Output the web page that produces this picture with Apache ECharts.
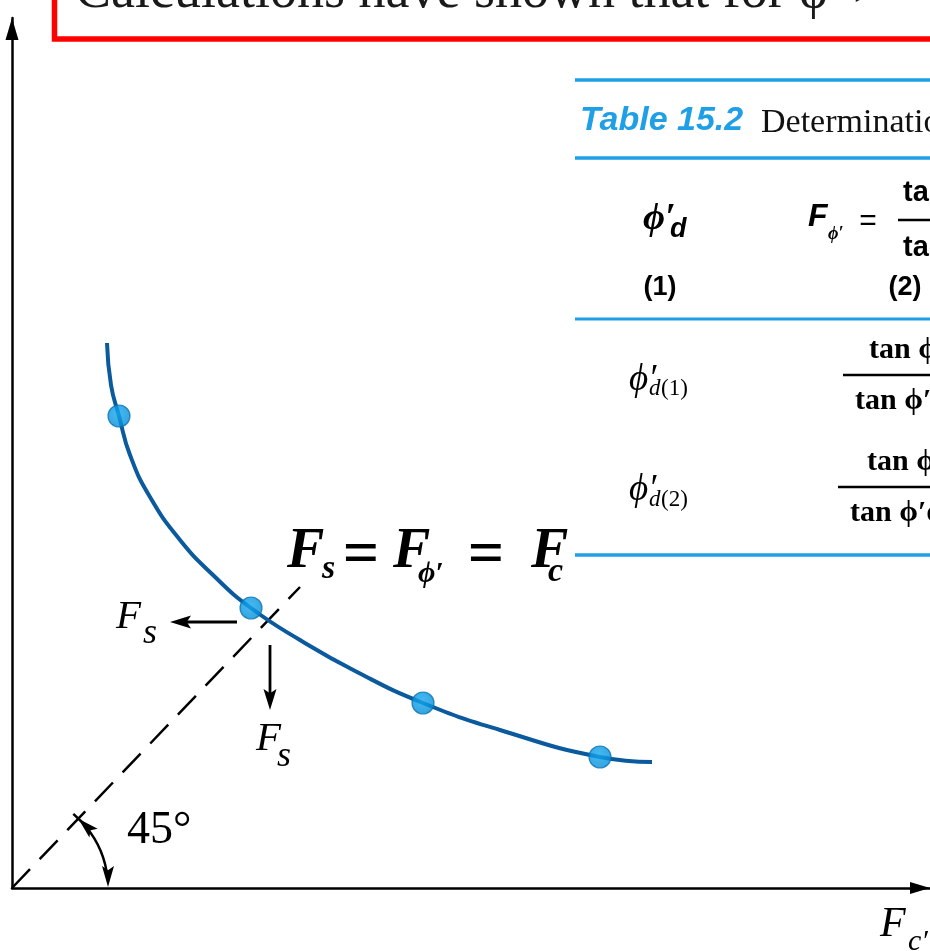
<!DOCTYPE html>
<html>
<head>
<meta charset="utf-8">
<script src="https://cdn.jsdelivr.net/npm/echarts@6/dist/echarts.min.js"></script>
<style>
  html, body { margin: 0; padding: 0; background: #ffffff; }
  #chart { width: 930px; height: 951px; }
</style>
</head>
<body>
<div id="chart"></div>
<script>
// Trial curve of F_s against F_c' (plot units, 1 unit = 100 px)
const curveX = [0.95, 0.99, 1.07, 1.18, 1.38, 1.68, 2.01, 2.39, 2.88, 3.45, 4.11, 4.88, 5.88, 6.40];
const curveY = [5.45, 5.03, 4.72, 4.33, 3.91, 3.48, 3.13, 2.80, 2.48, 2.16, 1.85, 1.58, 1.31, 1.26];
// Computed trial points
const pointX = [1.07, 2.39, 4.11, 5.88];
const pointY = [4.72, 2.80, 1.85, 1.31];
// Line F_s = F_c' through the origin
const diagX = [0, 2.88];
const diagY = [0, 3.01];
// Axis extents
const xMax = 9.18;
const yMax = 8.70;
// Radius of the angle marker
const arcRadius = 0.96;

const SERIF = "'Liberation Serif', 'DejaVu Serif', serif";
const SANS = "'Liberation Sans', 'DejaVu Sans', sans-serif";
const TABLE_BLUE = '#1f9fe6';

const chart = echarts.init(document.getElementById('chart'), null, { renderer: 'canvas' });

const zip = (xs, ys) => xs.map((x, i) => [x, ys[i]]);

chart.setOption({
  animation: false,
  backgroundColor: '#ffffff',
  grid: { left: 12, right: 0, top: 18, bottom: 63, containLabel: false },
  xAxis: {
    type: 'value', min: 0, max: xMax,
    axisLine: { show: true, lineStyle: { color: '#000', width: 2.5 },
      symbol: ['none', 'triangle'], symbolSize: [12, 20], symbolOffset: [0, -10] },
    axisTick: { show: false }, axisLabel: { show: false }, splitLine: { show: false }
  },
  yAxis: {
    type: 'value', min: 0, max: yMax,
    axisLine: { show: true, lineStyle: { color: '#000', width: 2.5 },
      symbol: ['none', 'triangle'], symbolSize: [13, 22], symbolOffset: [0, -11] },
    axisTick: { show: false }, axisLabel: { show: false }, splitLine: { show: false }
  },
  series: [
    {
      type: 'line', data: zip(diagX, diagY), showSymbol: false, silent: true,
      lineStyle: { color: '#000', width: 2.5, type: [26, 14] }, z: 2
    },
    {
      type: 'line', data: zip(curveX, curveY), smooth: 0.5,
      showSymbol: false, silent: true,
      lineStyle: { color: '#0a5a9d', width: 4 }, z: 3
    },
    {
      type: 'scatter', data: zip(pointX, pointY), symbolSize: 22, silent: true, z: 4,
      itemStyle: {
        color: {
          type: 'radial', x: 0.45, y: 0.4, r: 0.6,
          colorStops: [{ offset: 0, color: '#16a8f0' }, { offset: 1, color: '#038cd6' }]
        },
        borderColor: '#0a72b2', borderWidth: 1.2
      }
    }
  ]
});

const P = (x, y) => chart.convertToPixel({ gridIndex: 0 }, [x, y]);

function text(str, x, y, size, opt) {
  opt = opt || {};
  const font = (opt.italic ? 'italic ' : '') + (opt.bold ? 'bold ' : '') + size + 'px ' + (opt.family || SERIF);
  const align = opt.align || 'left';
  return {
    type: 'text', x: x, y: y, z: 20, silent: true,
    style: {
      text: str, font: font, fill: opt.color || '#000',
      textAlign: align, align: align, textVerticalAlign: 'middle', verticalAlign: 'middle'
    }
  };
}

function arrowHead(tip, ux, uy, len, half) {
  const bx = tip[0] - ux * len, by = tip[1] - uy * len;
  const nx = tip[0] - ux * len * 0.8, ny = tip[1] - uy * len * 0.8;
  return {
    type: 'polygon', z: 20, silent: true,
    shape: { points: [[tip[0], tip[1]], [bx - uy * half, by + ux * half], [nx, ny], [bx + uy * half, by - ux * half]] },
    style: { fill: '#000' }
  };
}

function arrow(p0, p1, len, half, w) {
  const dx = p1[0] - p0[0], dy = p1[1] - p0[1];
  const L = Math.hypot(dx, dy), ux = dx / L, uy = dy / L;
  return [
    { type: 'line', z: 20, silent: true,
      shape: { x1: p0[0], y1: p0[1], x2: p1[0] - ux * len * 0.7, y2: p1[1] - uy * len * 0.7 },
      style: { stroke: '#000', lineWidth: w } },
    arrowHead(p1, ux, uy, len, half)
  ];
}

function hline(x1, x2, y, w, color) {
  return { type: 'line', z: 20, silent: true, shape: { x1: x1, y1: y, x2: x2, y2: y },
    style: { stroke: color, lineWidth: w } };
}

const g = [];

// Heading box with its sentence
g.push({ type: 'rect', z: 15, silent: true, shape: { x: 54.5, y: -60, width: 1000, height: 99 },
  style: { fill: 'none', stroke: '#ff0000', lineWidth: 5.5 } });
g.push(text('Calculations have shown that for \u03D5\u2032 >', 75, -7, 54, { color: '#1a1a1a' }));

// Force arrows at the intersection point
g.push(...arrow(P(2.25, 2.66), P(1.58, 2.66), 21, 6.5, 2.8));
g.push(...arrow(P(2.58, 2.43), P(2.58, 1.78), 21, 6.5, 2.8));
g.push(text('F', 116, 617, 41, { italic: true }));
g.push(text('s', 143, 634, 36, { italic: true }));
g.push(text('F', 256, 739, 41, { italic: true }));
g.push(text('s', 277, 757, 36, { italic: true }));

// Equality label
g.push(text('F', 287, 553, 56, { italic: true, bold: true }));
g.push(text('s', 322, 569, 34, { italic: true, bold: true }));
g.push(text('=', 361, 557, 64, { bold: true, align: 'center' }));
g.push(text('F', 393, 553, 56, { italic: true, bold: true }));
g.push(text('\u03D5\u2032', 418, 574, 30, { italic: true, bold: true }));
g.push(text('=', 486, 557, 64, { bold: true, align: 'center' }));
g.push(text('F', 531, 553, 56, { italic: true, bold: true }));
g.push(text('c', 548, 572, 34, { italic: true, bold: true }));

// Angle marker between the axis and the line F_s = F_c'
const o = P(0, 0);
const r = P(arcRadius, 0)[0] - o[0];
const theta = Math.atan2(diagY[1], diagX[1]);
g.push({ type: 'arc', z: 20, silent: true,
  shape: { cx: o[0], cy: o[1], r: r, startAngle: -theta + 0.12, endAngle: -0.1, clockwise: true },
  style: { stroke: '#000', lineWidth: 2.5, fill: 'none' } });
g.push(arrowHead([o[0] + r, o[1] - 1], 0, 1, 21, 6));
const tipTop = [o[0] + r * Math.cos(theta), o[1] - r * Math.sin(theta)];
g.push(arrowHead(tipTop, -Math.sin(theta), -Math.cos(theta), 21, 6));
// short stop bar across the dashed line where the marker ends
const bar = 7;
g.push({ type: 'line', z: 20, silent: true,
  shape: { x1: tipTop[0] - bar * Math.sin(theta), y1: tipTop[1] - bar * Math.cos(theta),
           x2: tipTop[0] + bar * Math.sin(theta), y2: tipTop[1] + bar * Math.cos(theta) },
  style: { stroke: '#000', lineWidth: 2.5 } });
g.push(text('45°', 127, 831, 46));

// Axis title
g.push(text('F', 880, 925, 42, { italic: true }));
g.push(text('c\u2032', 908, 942, 30, { italic: true }));

// Table 15.2
g.push(hline(575, 935, 80, 3.5, TABLE_BLUE));
g.push(hline(575, 935, 158, 3.5, TABLE_BLUE));
g.push(hline(575, 935, 319, 3, TABLE_BLUE));
g.push(hline(575, 935, 555, 3.5, TABLE_BLUE));
g.push(text('Table 15.2', 580, 121, 34, { italic: true, bold: true, family: SANS, color: TABLE_BLUE }));
g.push(text('Determination of the factor of safety', 761, 123, 34, { color: '#111' }));

g.push(text('\u03D5\u2032', 643, 219, 38, { italic: true, bold: true }));
g.push(text('d', 670, 230, 27, { italic: true, bold: true, family: SANS }));
g.push(text('(1)', 660, 288, 27, { bold: true, family: SANS, align: 'center' }));
g.push(text('F', 808, 217, 32, { italic: true, bold: true, family: SANS }));
g.push(text('\u03D5\u2032', 828, 234, 18, { italic: true, bold: true }));
g.push(text('=', 868, 222, 30, { family: SANS, align: 'center' }));
g.push(hline(898, 935, 220, 2.5, '#000'));
g.push(text('tan \u03D5\u2032', 903, 193, 29, { bold: true, family: SANS }));
g.push(text('tan \u03D5\u2032d', 903, 248, 29, { bold: true, family: SANS }));
g.push(text('(2)', 905, 288, 27, { bold: true, family: SANS, align: 'center' }));

g.push(text('\u03D5\u2032', 629, 380, 37, { italic: true }));
g.push(text('d', 649, 389, 23, { italic: true }));
g.push(text('(1)', 661, 389, 23, {}));
g.push(text('tan \u03D5\u2032', 869, 350, 30, { bold: true }));
g.push(hline(843, 935, 375, 2.5, '#000'));
g.push(text('tan \u03D5\u2032d(1)', 855, 401, 30, { bold: true }));

g.push(text('\u03D5\u2032', 629, 490, 37, { italic: true }));
g.push(text('d', 649, 500, 23, { italic: true }));
g.push(text('(2)', 661, 500, 23, {}));
g.push(text('tan \u03D5\u2032', 867, 462, 30, { bold: true }));
g.push(hline(838, 935, 487, 2.5, '#000'));
g.push(text('tan \u03D5\u2032d(2)', 850, 513, 30, { bold: true }));

chart.setOption({ graphic: { elements: g } });
</script>
</body>
</html>
